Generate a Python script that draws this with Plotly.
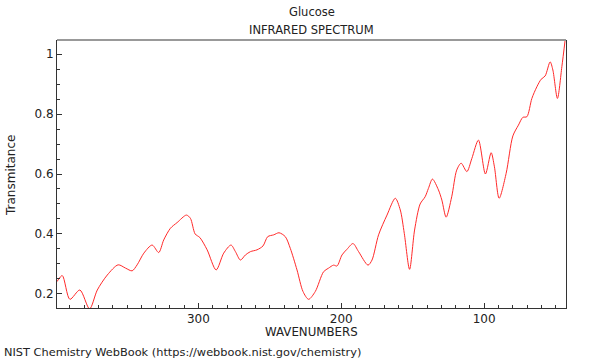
import plotly.graph_objects as go

wavenumber = [399, 395.3, 390, 383, 376.2, 370.8, 363.8, 356.2, 351, 346.4, 342.9, 338.2,
              332.4, 327.8, 324.3, 319.6, 314.9, 308.4, 305.6, 302.3, 299, 293.9, 287.6,
              282.3, 277.2, 274.1, 270.6, 267.1, 263.6, 259, 254.8, 251.5, 247.3, 243.6,
              239.2, 235.7, 231, 226.8, 222.9, 218.2, 212.4, 208.9, 205.4, 203, 199.5,
              196, 191.8, 187.9, 181.3, 178.5, 173.9, 168, 162.2, 158.7, 155.9, 152.2,
              148.7, 144.8, 141.3, 139, 136.2, 132, 129.6, 126.6, 122.7, 119.2, 116.1,
              112.1, 108.6, 104, 99.1, 95.1, 92.8, 89.5, 84.6, 79.9, 76, 72.9, 70.1,
              66.6, 63.1, 60.1, 57.3, 53.8, 51.9, 48.7, 45.6, 43.3]
transmittance = [0.241, 0.261, 0.182, 0.213, 0.15, 0.213, 0.263, 0.297, 0.286, 0.277, 0.297, 0.336,
                 0.363, 0.338, 0.38, 0.419, 0.438, 0.463, 0.452, 0.400, 0.388, 0.347, 0.28,
                 0.336, 0.363, 0.341, 0.313, 0.33, 0.341, 0.347, 0.36, 0.391, 0.397, 0.404,
                 0.391, 0.352, 0.28, 0.208, 0.182, 0.208, 0.274, 0.286, 0.296, 0.293, 0.33,
                 0.349, 0.368, 0.341, 0.296, 0.313, 0.397, 0.463, 0.519, 0.48, 0.402, 0.282,
                 0.413, 0.5, 0.524, 0.552, 0.583, 0.547, 0.513, 0.456, 0.524, 0.613, 0.636,
                 0.608, 0.652, 0.713, 0.6, 0.671, 0.624, 0.519, 0.602, 0.727, 0.763, 0.789, 0.791,
                 0.852, 0.891, 0.916, 0.927, 0.974, 0.947, 0.852, 0.958, 1.047]

y_tickvals = [0.2, 0.4, 0.6, 0.8, 1.0]
y_ticktext = ["0.2", "0.4", "0.6", "0.8", "1"]
x_tickvals = [300, 200, 100]

FONT = "DejaVu Sans"
TXT = "#222"

L, R, T, B = 57, 34, 40, 52
PW, PH = 600 - L - R, 360 - T - B

fig = go.Figure()
fig.add_trace(go.Scatter(
    x=wavenumber, y=transmittance, mode="lines",
    line=dict(color="#ff2a2a", width=1, shape="spline", smoothing=0.8),
    hoverinfo="skip", showlegend=False,
))

fig.update_layout(
    width=600, height=360,
    margin=dict(l=L, r=R, t=T, b=B, autoexpand=False),
    paper_bgcolor="white", plot_bgcolor="white",
    font=dict(family=FONT, size=12, color=TXT),
    xaxis=dict(
        range=[399, 42.7], tickvals=x_tickvals, ticks="inside", ticklen=5,
        tickcolor="#333", showgrid=False, zeroline=False, automargin=False,
        showline=True, linecolor="#333", linewidth=1,
        minor=dict(dtick=10, tick0=0, ticks="inside", ticklen=3, tickcolor="#333"),
        tickfont=dict(size=12),
    ),
    yaxis=dict(
        range=[0.153, 1.047], tickvals=y_tickvals, ticktext=y_ticktext,
        ticks="inside", ticklen=5, tickcolor="#333", showgrid=False, zeroline=False,
        showline=True, linecolor="#333", linewidth=1, mirror=True, automargin=False,
        minor=dict(dtick=0.05, tick0=0, ticks="inside", ticklen=3, tickcolor="#333"),
        tickfont=dict(size=12),
    ),
)

fig.add_shape(type="line", xref="paper", yref="paper", x0=0, x1=1, y0=1, y1=1,
              line=dict(color="#999", width=2))


def px_x(px):
    return (px - L) / PW


def px_y(py):
    return (360 - B - py) / PH


def label(text, x, y, size, xanchor="center", angle=0):
    fig.add_annotation(text=text, xref="paper", yref="paper", x=px_x(x), y=px_y(y),
                       xanchor=xanchor, yanchor="middle", showarrow=False, textangle=angle,
                       font=dict(size=size, family=FONT, color=TXT))


label("Glucose", 311.5, 12, 11.5)
label("INFRARED SPECTRUM", 311.5, 30, 11.5)
label("WAVENUMBERS", 311.5, 332, 11.8)
label("Transmitance", 11, 176, 12, angle=-90)
label("NIST Chemistry WebBook (https://webbook.nist.gov/chemistry)", 2, 352, 11.35, xanchor="left")

fig.write_html("out.html", config={"displayModeBar": False},
               post_script="document.body.style.margin='0';document.body.style.padding='0';")
